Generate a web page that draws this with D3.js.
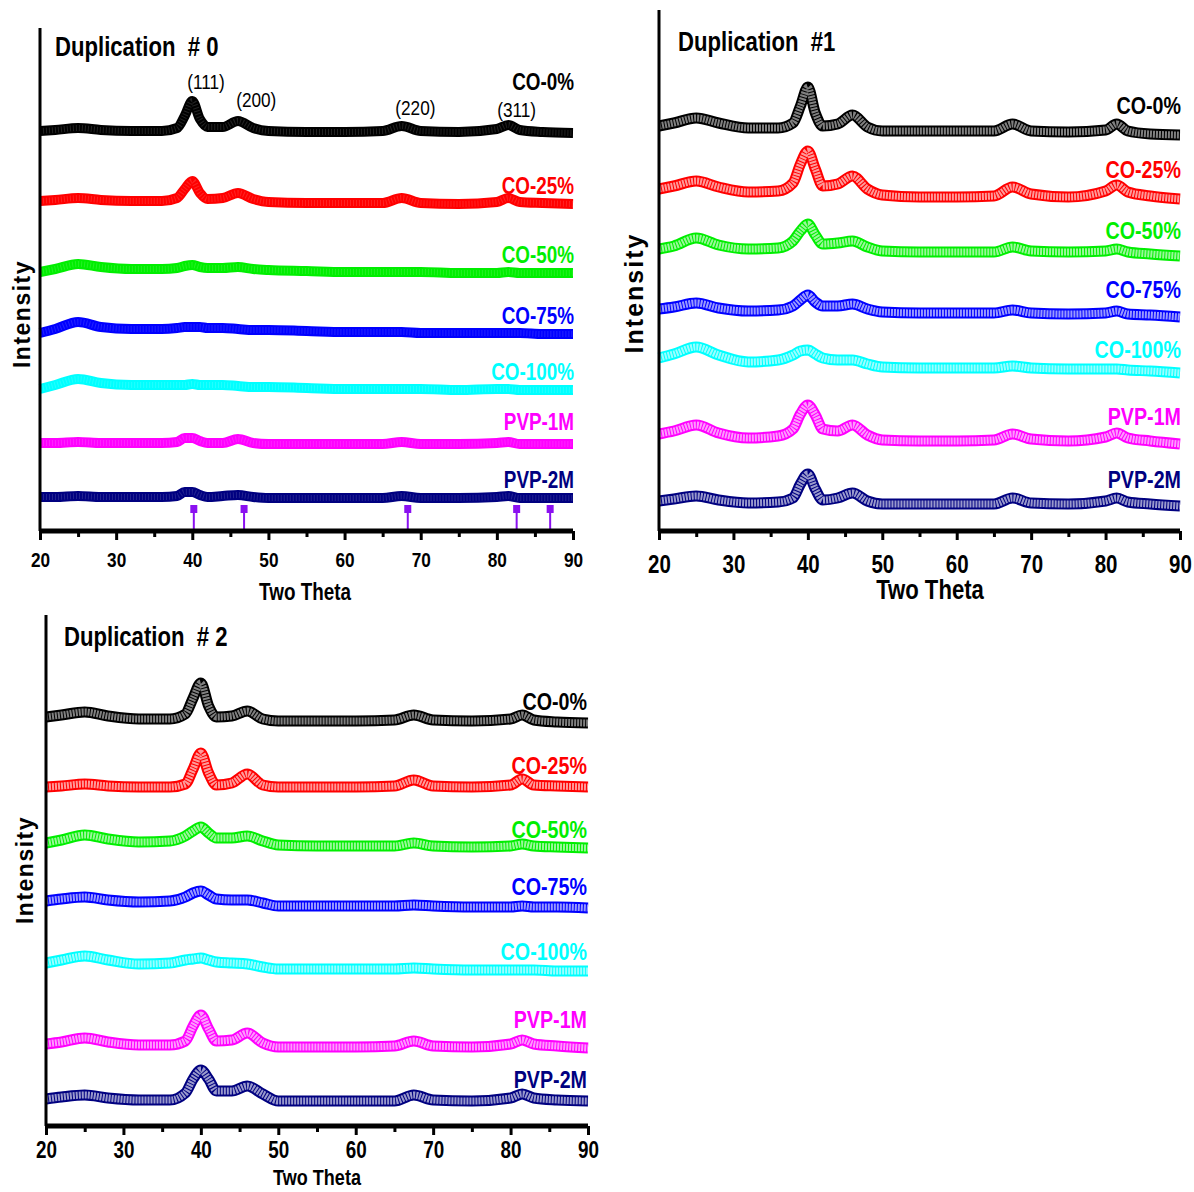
<!DOCTYPE html>
<html lang="en">
<head>
    <meta charset="UTF-8">
    <title>XRD Duplications</title>
    <script src="https://d3js.org/d3.v7.min.js"></script>
    <style>
        body {
            margin: 0;
            background: #ffffff;
        }
        text {
            font-family: "Liberation Sans", Arial, sans-serif;
            font-weight: bold;
            fill: #000;
            white-space: pre;
        }
    </style>
</head>
<body>
    <svg width="1194" height="1192"></svg>
    <script>
        // two-theta sample positions (deg) shared by every pattern
        const twoTheta = [20, 22, 25, 28, 32, 36, 38, 39, 40, 41, 42, 44, 46, 48, 50, 55, 60, 65, 67.5, 70, 75, 80, 81.5, 83, 86, 90];

        const samples = ["CO-0%", "CO-25%", "CO-50%", "CO-75%", "CO-100%", "PVP-1M", "PVP-2M"];
        const colors = ["#000000", "#ff0000", "#00ee00", "#0000ff", "#00ffff", "#ff00ff", "#000080"];

        // intensity (a.u., stacked offsets included)
        const dup0 = [
            [400, 401, 403, 401, 400, 400, 403, 415, 430, 412, 404, 404, 410, 403, 400, 399, 399, 400, 405, 400, 399, 402, 406, 401, 399, 398],
            [330, 331, 333, 331, 330, 330, 333, 342, 350, 338, 332, 333, 338, 332, 329, 328, 328, 328, 333, 328, 327, 329, 333, 329, 328, 327],
            [259, 262, 267, 264, 262, 262, 263, 265, 266, 264, 263, 263, 264, 262, 261, 260, 259, 259, 259, 259, 258, 258, 259, 258, 258, 258],
            [198, 202, 209, 204, 202, 202, 203, 204, 204, 204, 203, 203, 202, 201, 201, 200, 199, 199, 199, 198, 198, 198, 198, 198, 197, 197],
            [142, 146, 152, 148, 146, 146, 146, 146, 147, 146, 146, 146, 145, 144, 144, 143, 142, 142, 142, 142, 141, 142, 142, 141, 141, 141],
            [88, 88, 89, 88, 88, 88, 89, 93, 93, 90, 88, 88, 92, 88, 87, 87, 87, 87, 89, 87, 87, 88, 89, 87, 87, 87],
            [34, 34, 35, 34, 34, 34, 35, 39, 39, 36, 34, 35, 36, 34, 33, 33, 33, 33, 35, 33, 33, 34, 35, 33, 33, 33]
        ];
        const dup1 = [
            [405, 408, 413, 408, 403, 403, 408, 425, 444, 418, 405, 407, 416, 404, 400, 400, 400, 400, 407, 400, 399, 401, 407, 400, 397, 396],
            [342, 345, 350, 344, 339, 340, 348, 367, 380, 362, 345, 347, 355, 342, 336, 334, 334, 335, 344, 337, 334, 340, 346, 339, 335, 332],
            [282, 285, 293, 286, 282, 283, 290, 300, 307, 296, 287, 288, 290, 284, 280, 279, 279, 279, 284, 280, 279, 280, 282, 279, 277, 275],
            [222, 224, 228, 223, 220, 221, 225, 231, 236, 229, 225, 225, 227, 222, 219, 218, 218, 218, 221, 218, 217, 218, 220, 217, 216, 214],
            [173, 177, 184, 176, 169, 171, 176, 180, 181, 177, 173, 171, 171, 167, 164, 163, 163, 163, 165, 163, 162, 162, 162, 161, 160, 158],
            [97, 100, 106, 98, 93, 95, 102, 117, 126, 116, 102, 100, 106, 96, 91, 90, 90, 91, 97, 92, 90, 94, 98, 93, 90, 87],
            [30, 32, 35, 31, 28, 29, 33, 47, 57, 42, 31, 33, 38, 30, 27, 27, 27, 27, 33, 28, 27, 30, 33, 29, 27, 25]
        ];
        const dup2 = [
            [409, 411, 414, 410, 407, 407, 412, 428, 443, 420, 409, 410, 415, 407, 405, 405, 405, 406, 411, 406, 405, 407, 411, 406, 404, 403],
            [339, 340, 342, 340, 339, 339, 342, 357, 373, 353, 341, 343, 352, 341, 339, 339, 339, 340, 346, 340, 339, 341, 347, 341, 340, 339],
            [283, 286, 291, 287, 284, 285, 290, 295, 299, 293, 288, 288, 290, 285, 281, 280, 280, 280, 283, 280, 279, 280, 282, 280, 279, 278],
            [225, 227, 229, 226, 224, 225, 229, 233, 235, 231, 227, 226, 226, 223, 220, 220, 220, 220, 221, 220, 219, 219, 220, 219, 219, 218],
            [163, 166, 170, 166, 162, 163, 166, 167, 168, 166, 164, 163, 162, 159, 157, 157, 157, 157, 158, 157, 156, 156, 156, 156, 155, 155],
            [82, 84, 88, 84, 81, 81, 85, 100, 111, 97, 85, 86, 93, 83, 79, 79, 79, 80, 85, 80, 79, 82, 86, 82, 80, 78],
            [27, 29, 31, 28, 26, 26, 33, 47, 56, 47, 35, 35, 40, 32, 25, 25, 25, 25, 31, 26, 25, 28, 32, 28, 26, 25]
        ];

        // reference pattern sticks (panel 0)
        const refPeaks = [40.2, 46.8, 68.3, 82.6, 87.0];
        const refHeight = 22;
        const hklLabels = ["(111)", "(200)", "(220)", "(311)"];
        const hklPos = [41.8, 48.4, 69.3, 82.6];

        const majorTicks = [20, 30, 40, 50, 60, 70, 80, 90];
        const minorTicks = [25, 35, 45, 55, 65, 75, 85];

        const NARROW = 0.82;
        const svg = d3.select("svg");

        // condensed text: Arial-like glyphs squeezed horizontally
        function narrow(g, x, y, s, size, anchor) {
            return g.append("text")
                .attr("transform", `translate(${x},${y}) scale(${NARROW},1)`)
                .attr("dy", "0.35em")
                .attr("text-anchor", anchor || "start")
                .attr("font-size", size)
                .text(s);
        }

        const panels = [
            {
                data: dup0, title: "Duplication  # 0", left: 40, right: 573, top: 28, bottom: 531, ymax: 503,
                titleX: 55, titleY: 47, titleSize: 27,
                labelX: 574, labelY: [82, 186, 255, 316, 372, 422, 480], labelSize: 23,
                tickSize: 21, tickY: 560, xTitleX: 305, xTitleY: 592, xTitleSize: 23,
                yLabX: 22, yLabY: 314, yLabSize: 23, yLabSpacing: 1.5,
                outer: 10, inner: 6, hatched: false, refs: true,
                hklY: [82, 100, 108, 110]
            },
            {
                data: dup1, title: "Duplication  #1", left: 659, right: 1180, top: 10, bottom: 531, ymax: 521,
                titleX: 678, titleY: 42, titleSize: 27,
                labelX: 1181, labelY: [106, 170, 231, 290, 350, 417, 480], labelSize: 24,
                tickSize: 25, tickY: 564, xTitleX: 930, xTitleY: 590, xTitleSize: 27,
                yLabX: 634, yLabY: 293, yLabSize: 25, yLabSpacing: 2,
                outer: 11, inner: 7, hatched: true, refs: false
            },
            {
                data: dup2, title: "Duplication  # 2", left: 46, right: 588, top: 615, bottom: 1126, ymax: 511,
                titleX: 64, titleY: 637, titleSize: 27,
                labelX: 587, labelY: [702, 766, 830, 887, 952, 1020, 1080], labelSize: 24,
                tickSize: 23, tickY: 1150, xTitleX: 317, xTitleY: 1177, xTitleSize: 22,
                yLabX: 25, yLabY: 870, yLabSize: 23, yLabSpacing: 1.5,
                outer: 11, inner: 7, hatched: true, refs: false
            }
        ];

        panels.forEach(p => {
            const x = d3.scaleLinear().domain([20, 90]).range([p.left, p.right]);
            const y = d3.scaleLinear().domain([0, p.ymax]).range([p.bottom, p.top]);
            const g = svg.append("g");

            const line = d3.line()
                .x((d, i) => x(twoTheta[i]))
                .y(d => y(d))
                .curve(d3.curveMonotoneX);

            // patterns (dense open-square markers rendered as a band)
            p.data.forEach((series, si) => {
                const c = colors[si];
                g.append("path")
                    .attr("d", line(series))
                    .attr("fill", "none")
                    .attr("stroke", c)
                    .attr("stroke-width", p.outer)
                    .attr("stroke-linejoin", "round");
                if (p.hatched) {
                    g.append("path")
                        .attr("d", line(series))
                        .attr("fill", "none")
                        .attr("stroke", d3.interpolateRgb(c, "#ffffff")(si === 0 ? 0.5 : 0.6))
                        .attr("stroke-width", p.inner)
                        .attr("stroke-dasharray", "2,1");
                } else {
                    g.append("path")
                        .attr("d", line(series))
                        .attr("fill", "none")
                        .attr("stroke", d3.interpolateRgb(c, "#ffffff")(0.3))
                        .attr("stroke-opacity", 0.45)
                        .attr("stroke-width", p.inner)
                        .attr("stroke-dasharray", "1,2");
                }

                narrow(g, p.labelX, p.labelY[si], samples[si], p.labelSize, "end")
                    .style("fill", c);
            });

            if (p.refs) {
                refPeaks.forEach(r => {
                    g.append("line")
                        .attr("x1", x(r)).attr("x2", x(r))
                        .attr("y1", y(refHeight)).attr("y2", y(0))
                        .attr("stroke", "#8a10f0")
                        .attr("stroke-width", 2);
                    g.append("rect")
                        .attr("x", x(r) - 3.5).attr("y", y(refHeight) - 4)
                        .attr("width", 7).attr("height", 8)
                        .attr("fill", "#8a10f0");
                });
                hklLabels.forEach((h, i) => {
                    narrow(g, x(hklPos[i]), p.hklY[i], h, 21, "middle")
                        .style("font-weight", "normal");
                });
            }

            // axes
            const xAxis = d3.axisBottom(x).tickValues(majorTicks).tickSize(9).tickFormat(d3.format("d"));
            const ax = g.append("g")
                .attr("transform", `translate(0,${p.bottom})`)
                .call(xAxis);
            ax.attr("font-family", null).attr("font-size", null);
            ax.select(".domain").attr("stroke", "#000").attr("stroke-width", 5)
                .attr("d", `M${p.left},0H${p.right}`);
            ax.selectAll(".tick line").attr("stroke", "#000").attr("stroke-width", 3);
            ax.selectAll(".tick text")
                .attr("y", null)
                .attr("dy", "0.35em")
                .attr("transform", `translate(0,${p.tickY - p.bottom}) scale(${NARROW},1)`)
                .attr("font-size", p.tickSize)
                .attr("fill", "#000");

            const minorAxis = d3.axisBottom(x).tickValues(minorTicks).tickSize(6).tickFormat("");
            const mx = g.append("g")
                .attr("transform", `translate(0,${p.bottom})`)
                .call(minorAxis);
            mx.select(".domain").remove();
            mx.selectAll(".tick line").attr("stroke", "#000").attr("stroke-width", 3);

            g.append("line")
                .attr("x1", p.left).attr("x2", p.left)
                .attr("y1", p.top).attr("y2", p.bottom)
                .attr("stroke", "#000")
                .attr("stroke-width", 3);

            narrow(g, p.xTitleX, p.xTitleY, "Two Theta", p.xTitleSize, "middle");

            g.append("text")
                .attr("transform", `translate(${p.yLabX},${p.yLabY}) rotate(-90)`)
                .attr("dy", "0.35em")
                .attr("text-anchor", "middle")
                .attr("font-size", p.yLabSize)
                .attr("letter-spacing", p.yLabSpacing)
                .text("Intensity");

            narrow(g, p.titleX, p.titleY, p.title, p.titleSize, "start");
        });
    </script>
</body>
</html>
